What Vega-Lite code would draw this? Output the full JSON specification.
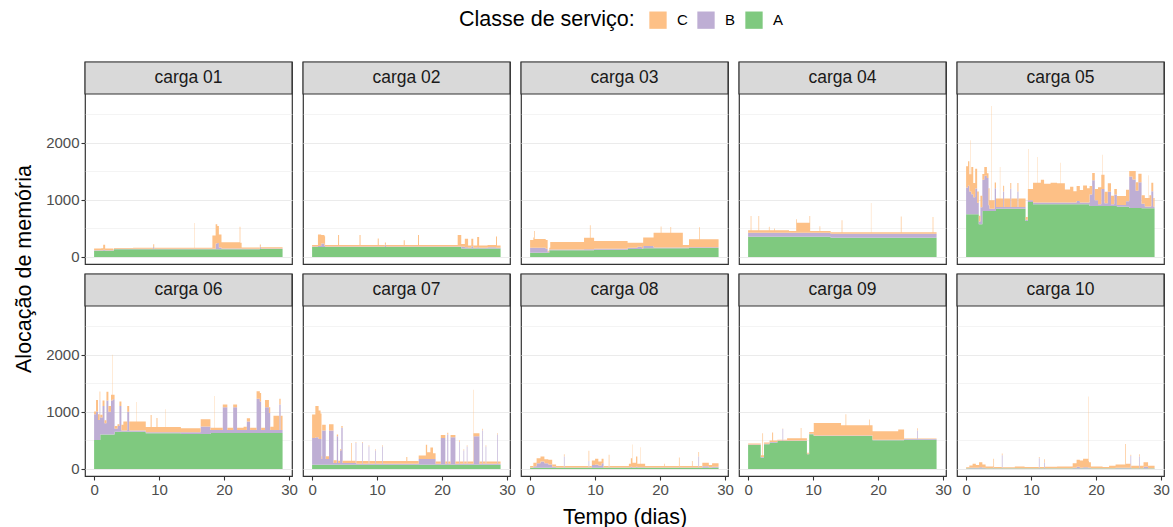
{
"$schema": "https://vega.github.io/schema/vega-lite/v6.json",
"padding": {"left": 13, "top": 11, "right": 5, "bottom": 5},
"bounds": "flush",
"datasets": {"d": [
{"c":"carga 01","t":0,"A":110,"B":8,"C":30},
{"c":"carga 01","t":1.1,"A":110,"B":10,"C":35},
{"c":"carga 01","t":1.4,"A":110,"B":15,"C":90},
{"c":"carga 01","t":1.7,"A":110,"B":10,"C":30},
{"c":"carga 01","t":2.95,"A":110,"B":8,"C":15},
{"c":"carga 01","t":3.05,"A":135,"B":8,"C":15},
{"c":"carga 01","t":6,"A":135,"B":8,"C":20},
{"c":"carga 01","t":9.1,"A":135,"B":40,"C":50},
{"c":"carga 01","t":9.25,"A":135,"B":8,"C":20},
{"c":"carga 01","t":15.4,"A":135,"B":10,"C":450},
{"c":"carga 01","t":15.45,"A":135,"B":8,"C":20},
{"c":"carga 01","t":18,"A":135,"B":8,"C":20},
{"c":"carga 01","t":18.2,"A":135,"B":10,"C":230},
{"c":"carga 01","t":18.7,"A":135,"B":100,"C":340},
{"c":"carga 01","t":18.95,"A":135,"B":110,"C":300},
{"c":"carga 01","t":19.2,"A":135,"B":30,"C":230},
{"c":"carga 01","t":19.6,"A":135,"B":15,"C":110},
{"c":"carga 01","t":22.4,"A":135,"B":15,"C":380},
{"c":"carga 01","t":22.5,"A":135,"B":15,"C":100},
{"c":"carga 01","t":22.7,"A":135,"B":10,"C":20},
{"c":"carga 01","t":25.5,"A":140,"B":40,"C":40},
{"c":"carga 01","t":25.65,"A":140,"B":10,"C":20},
{"c":"carga 01","t":29,"A":145,"B":10,"C":20},
{"c":"carga 02","t":0,"A":175,"B":10,"C":25},
{"c":"carga 02","t":0.9,"A":175,"B":20,"C":200},
{"c":"carga 02","t":1.4,"A":175,"B":60,"C":150},
{"c":"carga 02","t":1.9,"A":175,"B":20,"C":170},
{"c":"carga 02","t":2.0,"A":175,"B":10,"C":25},
{"c":"carga 02","t":4.0,"A":175,"B":10,"C":200},
{"c":"carga 02","t":4.15,"A":175,"B":10,"C":25},
{"c":"carga 02","t":7.3,"A":175,"B":10,"C":200},
{"c":"carga 02","t":7.45,"A":175,"B":10,"C":25},
{"c":"carga 02","t":10.1,"A":175,"B":10,"C":140},
{"c":"carga 02","t":10.25,"A":175,"B":10,"C":25},
{"c":"carga 02","t":11.2,"A":175,"B":40,"C":40},
{"c":"carga 02","t":11.35,"A":175,"B":10,"C":25},
{"c":"carga 02","t":14.1,"A":175,"B":10,"C":110},
{"c":"carga 02","t":14.25,"A":175,"B":10,"C":25},
{"c":"carga 02","t":16.3,"A":175,"B":10,"C":200},
{"c":"carga 02","t":16.45,"A":175,"B":10,"C":25},
{"c":"carga 02","t":22.4,"A":175,"B":10,"C":200},
{"c":"carga 02","t":22.95,"A":150,"B":30,"C":50},
{"c":"carga 02","t":23.5,"A":150,"B":20,"C":150},
{"c":"carga 02","t":24.0,"A":150,"B":10,"C":40},
{"c":"carga 02","t":24.5,"A":150,"B":40,"C":130},
{"c":"carga 02","t":24.8,"A":150,"B":10,"C":40},
{"c":"carga 02","t":25.4,"A":150,"B":20,"C":180},
{"c":"carga 02","t":25.7,"A":150,"B":10,"C":40},
{"c":"carga 02","t":27.0,"A":150,"B":20,"C":40},
{"c":"carga 02","t":28.3,"A":150,"B":10,"C":200},
{"c":"carga 02","t":28.45,"A":150,"B":10,"C":40},
{"c":"carga 02","t":29,"A":150,"B":10,"C":40},
{"c":"carga 03","t":0,"A":76,"B":88,"C":136},
{"c":"carga 03","t":0.5,"A":76,"B":88,"C":180},
{"c":"carga 03","t":0.6,"A":76,"B":88,"C":290},
{"c":"carga 03","t":0.7,"A":76,"B":88,"C":150},
{"c":"carga 03","t":2.4,"A":76,"B":70,"C":150},
{"c":"carga 03","t":2.7,"A":76,"B":15,"C":20},
{"c":"carga 03","t":2.95,"A":117,"B":15,"C":30},
{"c":"carga 03","t":3.1,"A":117,"B":15,"C":130},
{"c":"carga 03","t":8.3,"A":117,"B":20,"C":200},
{"c":"carga 03","t":9.2,"A":117,"B":20,"C":420},
{"c":"carga 03","t":9.3,"A":117,"B":20,"C":200},
{"c":"carga 03","t":9.85,"A":129,"B":15,"C":135},
{"c":"carga 03","t":15.0,"A":140,"B":20,"C":90},
{"c":"carga 03","t":16.5,"A":140,"B":40,"C":70},
{"c":"carga 03","t":17.2,"A":140,"B":15,"C":95},
{"c":"carga 03","t":17.4,"A":152,"B":40,"C":150},
{"c":"carga 03","t":19.0,"A":152,"B":15,"C":260},
{"c":"carga 03","t":20.1,"A":152,"B":15,"C":370},
{"c":"carga 03","t":20.2,"A":152,"B":15,"C":260},
{"c":"carga 03","t":21.6,"A":152,"B":15,"C":360},
{"c":"carga 03","t":21.7,"A":152,"B":15,"C":260},
{"c":"carga 03","t":23.5,"A":152,"B":15,"C":45},
{"c":"carga 03","t":24.45,"A":158,"B":15,"C":140},
{"c":"carga 03","t":26.0,"A":158,"B":15,"C":350},
{"c":"carga 03","t":26.1,"A":158,"B":15,"C":140},
{"c":"carga 03","t":29,"A":158,"B":15,"C":140},
{"c":"carga 04","t":0,"A":357,"B":70,"C":41},
{"c":"carga 04","t":0.4,"A":357,"B":70,"C":293},
{"c":"carga 04","t":0.5,"A":357,"B":70,"C":41},
{"c":"carga 04","t":1.6,"A":357,"B":70,"C":293},
{"c":"carga 04","t":1.7,"A":357,"B":70,"C":41},
{"c":"carga 04","t":3.2,"A":357,"B":70,"C":105},
{"c":"carga 04","t":3.3,"A":357,"B":70,"C":41},
{"c":"carga 04","t":4.0,"A":357,"B":70,"C":75},
{"c":"carga 04","t":4.1,"A":357,"B":70,"C":41},
{"c":"carga 04","t":6.3,"A":357,"B":70,"C":29},
{"c":"carga 04","t":7.4,"A":357,"B":70,"C":234},
{"c":"carga 04","t":7.5,"A":357,"B":70,"C":175},
{"c":"carga 04","t":9.45,"A":357,"B":70,"C":293},
{"c":"carga 04","t":9.55,"A":357,"B":70,"C":29},
{"c":"carga 04","t":11.0,"A":357,"B":70,"C":111},
{"c":"carga 04","t":11.1,"A":357,"B":70,"C":29},
{"c":"carga 04","t":12.7,"A":339,"B":70,"C":24},
{"c":"carga 04","t":14.4,"A":339,"B":70,"C":234},
{"c":"carga 04","t":14.5,"A":339,"B":70,"C":24},
{"c":"carga 04","t":18.9,"A":339,"B":70,"C":540},
{"c":"carga 04","t":18.95,"A":339,"B":70,"C":24},
{"c":"carga 04","t":23.5,"A":339,"B":70,"C":300},
{"c":"carga 04","t":23.6,"A":339,"B":70,"C":24},
{"c":"carga 04","t":28.4,"A":339,"B":70,"C":293},
{"c":"carga 04","t":28.5,"A":339,"B":70,"C":24},
{"c":"carga 04","t":29,"A":339,"B":70,"C":24},
{"c":"carga 05","t":0,"A":750,"B":470,"C":370},
{"c":"carga 05","t":0.3,"A":750,"B":500,"C":430},
{"c":"carga 05","t":0.5,"A":750,"B":400,"C":300},
{"c":"carga 05","t":0.6,"A":750,"B":400,"C":900},
{"c":"carga 05","t":0.65,"A":750,"B":400,"C":300},
{"c":"carga 05","t":0.8,"A":750,"B":350,"C":480},
{"c":"carga 05","t":1.1,"A":750,"B":300,"C":250},
{"c":"carga 05","t":1.4,"A":750,"B":450,"C":350},
{"c":"carga 05","t":1.7,"A":750,"B":200,"C":200},
{"c":"carga 05","t":1.95,"A":573,"B":50,"C":100},
{"c":"carga 05","t":2.2,"A":573,"B":300,"C":200},
{"c":"carga 05","t":2.5,"A":807,"B":550,"C":100},
{"c":"carga 05","t":2.8,"A":807,"B":620,"C":150},
{"c":"carga 05","t":3.2,"A":807,"B":580,"C":80},
{"c":"carga 05","t":3.45,"A":807,"B":100,"C":300},
{"c":"carga 05","t":3.6,"A":807,"B":40,"C":150},
{"c":"carga 05","t":3.9,"A":807,"B":40,"C":1800},
{"c":"carga 05","t":3.95,"A":807,"B":40,"C":150},
{"c":"carga 05","t":4.4,"A":807,"B":400,"C":100},
{"c":"carga 05","t":4.6,"A":848,"B":30,"C":150},
{"c":"carga 05","t":5.2,"A":848,"B":30,"C":700},
{"c":"carga 05","t":5.25,"A":848,"B":30,"C":150},
{"c":"carga 05","t":5.7,"A":848,"B":300,"C":100},
{"c":"carga 05","t":5.85,"A":848,"B":30,"C":150},
{"c":"carga 05","t":6.8,"A":848,"B":350,"C":100},
{"c":"carga 05","t":6.95,"A":848,"B":30,"C":150},
{"c":"carga 05","t":7.9,"A":848,"B":300,"C":150},
{"c":"carga 05","t":8.05,"A":848,"B":30,"C":150},
{"c":"carga 05","t":9.15,"A":632,"B":20,"C":50},
{"c":"carga 05","t":9.5,"A":965,"B":30,"C":200},
{"c":"carga 05","t":9.55,"A":965,"B":30,"C":900},
{"c":"carga 05","t":9.6,"A":965,"B":30,"C":200},
{"c":"carga 05","t":10.3,"A":924,"B":30,"C":350},
{"c":"carga 05","t":11.0,"A":924,"B":30,"C":800},
{"c":"carga 05","t":11.05,"A":924,"B":30,"C":350},
{"c":"carga 05","t":11.5,"A":924,"B":30,"C":400},
{"c":"carga 05","t":12,"A":924,"B":30,"C":330},
{"c":"carga 05","t":13,"A":924,"B":30,"C":350},
{"c":"carga 05","t":14,"A":924,"B":30,"C":340},
{"c":"carga 05","t":14.5,"A":924,"B":30,"C":700},
{"c":"carga 05","t":14.55,"A":924,"B":30,"C":340},
{"c":"carga 05","t":15.2,"A":924,"B":30,"C":230},
{"c":"carga 05","t":16,"A":924,"B":30,"C":280},
{"c":"carga 05","t":16.5,"A":924,"B":30,"C":200},
{"c":"carga 05","t":17,"A":924,"B":60,"C":260},
{"c":"carga 05","t":17.5,"A":924,"B":30,"C":220},
{"c":"carga 05","t":18,"A":924,"B":30,"C":300},
{"c":"carga 05","t":18.6,"A":924,"B":30,"C":250},
{"c":"carga 05","t":19,"A":895,"B":200,"C":150},
{"c":"carga 05","t":19.4,"A":895,"B":450,"C":130},
{"c":"carga 05","t":19.8,"A":895,"B":100,"C":200},
{"c":"carga 05","t":20.3,"A":895,"B":30,"C":300},
{"c":"carga 05","t":20.8,"A":895,"B":300,"C":250},
{"c":"carga 05","t":21.0,"A":895,"B":300,"C":600},
{"c":"carga 05","t":21.05,"A":895,"B":300,"C":250},
{"c":"carga 05","t":21.3,"A":895,"B":50,"C":200},
{"c":"carga 05","t":21.8,"A":895,"B":250,"C":150},
{"c":"carga 05","t":22.3,"A":895,"B":30,"C":150},
{"c":"carga 05","t":22.8,"A":895,"B":200,"C":100},
{"c":"carga 05","t":23.2,"A":880,"B":30,"C":160},
{"c":"carga 05","t":24.6,"A":880,"B":100,"C":200},
{"c":"carga 05","t":25.1,"A":860,"B":550,"C":100},
{"c":"carga 05","t":25.6,"A":860,"B":500,"C":150},
{"c":"carga 05","t":26.1,"A":860,"B":300,"C":150},
{"c":"carga 05","t":26.5,"A":860,"B":450,"C":150},
{"c":"carga 05","t":27,"A":854,"B":80,"C":150},
{"c":"carga 05","t":27.5,"A":854,"B":30,"C":150},
{"c":"carga 05","t":28.0,"A":854,"B":30,"C":550},
{"c":"carga 05","t":28.05,"A":854,"B":30,"C":150},
{"c":"carga 05","t":28.2,"A":854,"B":30,"C":200},
{"c":"carga 05","t":28.5,"A":854,"B":300,"C":150},
{"c":"carga 05","t":28.8,"A":854,"B":30,"C":150},
{"c":"carga 05","t":29,"A":854,"B":30,"C":130},
{"c":"carga 06","t":0,"A":509,"B":450,"C":50},
{"c":"carga 06","t":0.3,"A":509,"B":500,"C":200},
{"c":"carga 06","t":0.6,"A":509,"B":350,"C":100},
{"c":"carga 06","t":0.85,"A":509,"B":700,"C":150},
{"c":"carga 06","t":0.95,"A":603,"B":300,"C":50},
{"c":"carga 06","t":1.3,"A":603,"B":500,"C":100},
{"c":"carga 06","t":1.6,"A":603,"B":200,"C":50},
{"c":"carga 06","t":1.9,"A":603,"B":600,"C":150},
{"c":"carga 06","t":2.2,"A":603,"B":400,"C":100},
{"c":"carga 06","t":2.6,"A":603,"B":600,"C":100},
{"c":"carga 06","t":2.8,"A":603,"B":600,"C":800},
{"c":"carga 06","t":2.85,"A":603,"B":620,"C":80},
{"c":"carga 06","t":3.15,"A":655,"B":50,"C":50},
{"c":"carga 06","t":3.6,"A":655,"B":100,"C":30},
{"c":"carga 06","t":3.9,"A":655,"B":450,"C":80},
{"c":"carga 06","t":4.2,"A":655,"B":20,"C":100},
{"c":"carga 06","t":4.5,"A":655,"B":20,"C":160},
{"c":"carga 06","t":5.1,"A":655,"B":350,"C":100},
{"c":"carga 06","t":5.4,"A":655,"B":20,"C":160},
{"c":"carga 06","t":6.5,"A":655,"B":20,"C":500},
{"c":"carga 06","t":6.55,"A":655,"B":20,"C":160},
{"c":"carga 06","t":7.95,"A":626,"B":20,"C":90},
{"c":"carga 06","t":8.7,"A":626,"B":20,"C":300},
{"c":"carga 06","t":8.85,"A":626,"B":20,"C":90},
{"c":"carga 06","t":9.6,"A":626,"B":20,"C":250},
{"c":"carga 06","t":9.75,"A":626,"B":20,"C":90},
{"c":"carga 06","t":11.0,"A":626,"B":20,"C":400},
{"c":"carga 06","t":11.05,"A":626,"B":20,"C":90},
{"c":"carga 06","t":13.35,"A":614,"B":30,"C":70},
{"c":"carga 06","t":16.4,"A":614,"B":130,"C":130},
{"c":"carga 06","t":17.9,"A":632,"B":50,"C":40},
{"c":"carga 06","t":18.5,"A":632,"B":50,"C":600},
{"c":"carga 06","t":18.55,"A":632,"B":50,"C":40},
{"c":"carga 06","t":19.8,"A":632,"B":450,"C":50},
{"c":"carga 06","t":20.5,"A":632,"B":50,"C":40},
{"c":"carga 06","t":21.4,"A":632,"B":450,"C":50},
{"c":"carga 06","t":22.0,"A":632,"B":50,"C":40},
{"c":"carga 06","t":23.0,"A":632,"B":50,"C":60},
{"c":"carga 06","t":23.5,"A":632,"B":200,"C":60},
{"c":"carga 06","t":24.0,"A":632,"B":50,"C":40},
{"c":"carga 06","t":25.0,"A":632,"B":600,"C":130},
{"c":"carga 06","t":25.5,"A":632,"B":550,"C":150},
{"c":"carga 06","t":25.7,"A":632,"B":50,"C":40},
{"c":"carga 06","t":26.3,"A":632,"B":450,"C":130},
{"c":"carga 06","t":26.9,"A":632,"B":350,"C":100},
{"c":"carga 06","t":27.1,"A":632,"B":50,"C":60},
{"c":"carga 06","t":27.6,"A":632,"B":50,"C":250},
{"c":"carga 06","t":28.5,"A":632,"B":500,"C":100},
{"c":"carga 06","t":28.7,"A":632,"B":50,"C":250},
{"c":"carga 06","t":29,"A":632,"B":50,"C":40},
{"c":"carga 07","t":0,"A":75,"B":470,"C":410},
{"c":"carga 07","t":0.5,"A":75,"B":480,"C":550},
{"c":"carga 07","t":1.0,"A":75,"B":450,"C":500},
{"c":"carga 07","t":1.3,"A":75,"B":450,"C":450},
{"c":"carga 07","t":1.45,"A":75,"B":100,"C":50},
{"c":"carga 07","t":1.55,"A":75,"B":600,"C":100},
{"c":"carga 07","t":2.1,"A":75,"B":100,"C":50},
{"c":"carga 07","t":2.6,"A":75,"B":600,"C":110},
{"c":"carga 07","t":3.3,"A":75,"B":30,"C":50},
{"c":"carga 07","t":3.8,"A":75,"B":500,"C":30},
{"c":"carga 07","t":4.0,"A":75,"B":30,"C":40},
{"c":"carga 07","t":4.3,"A":75,"B":250,"C":20},
{"c":"carga 07","t":4.5,"A":75,"B":650,"C":30},
{"c":"carga 07","t":4.7,"A":75,"B":30,"C":40},
{"c":"carga 07","t":6.0,"A":75,"B":30,"C":350},
{"c":"carga 07","t":6.1,"A":75,"B":30,"C":40},
{"c":"carga 07","t":6.7,"A":75,"B":380,"C":20},
{"c":"carga 07","t":6.8,"A":75,"B":15,"C":50},
{"c":"carga 07","t":7.7,"A":75,"B":380,"C":20},
{"c":"carga 07","t":7.8,"A":75,"B":15,"C":50},
{"c":"carga 07","t":8.7,"A":75,"B":320,"C":20},
{"c":"carga 07","t":8.8,"A":75,"B":15,"C":50},
{"c":"carga 07","t":9.7,"A":75,"B":250,"C":20},
{"c":"carga 07","t":9.8,"A":75,"B":15,"C":50},
{"c":"carga 07","t":10.8,"A":75,"B":320,"C":20},
{"c":"carga 07","t":10.9,"A":75,"B":15,"C":50},
{"c":"carga 07","t":14.5,"A":75,"B":15,"C":120},
{"c":"carga 07","t":14.65,"A":75,"B":15,"C":50},
{"c":"carga 07","t":16.4,"A":75,"B":100,"C":60},
{"c":"carga 07","t":17.5,"A":75,"B":100,"C":250},
{"c":"carga 07","t":17.7,"A":75,"B":100,"C":120},
{"c":"carga 07","t":18.2,"A":75,"B":100,"C":200},
{"c":"carga 07","t":18.6,"A":75,"B":100,"C":100},
{"c":"carga 07","t":19.0,"A":75,"B":15,"C":40},
{"c":"carga 07","t":19.8,"A":75,"B":470,"C":50},
{"c":"carga 07","t":20.5,"A":75,"B":15,"C":40},
{"c":"carga 07","t":20.8,"A":75,"B":530,"C":30},
{"c":"carga 07","t":20.95,"A":75,"B":15,"C":40},
{"c":"carga 07","t":21.3,"A":75,"B":480,"C":40},
{"c":"carga 07","t":22.05,"A":75,"B":15,"C":40},
{"c":"carga 07","t":22.6,"A":75,"B":400,"C":30},
{"c":"carga 07","t":22.7,"A":75,"B":15,"C":40},
{"c":"carga 07","t":23.3,"A":75,"B":250,"C":20},
{"c":"carga 07","t":23.4,"A":75,"B":15,"C":40},
{"c":"carga 07","t":23.8,"A":75,"B":320,"C":20},
{"c":"carga 07","t":23.9,"A":75,"B":15,"C":40},
{"c":"carga 07","t":24.8,"A":75,"B":15,"C":1300},
{"c":"carga 07","t":24.85,"A":75,"B":500,"C":50},
{"c":"carga 07","t":25.75,"A":75,"B":15,"C":40},
{"c":"carga 07","t":26.2,"A":75,"B":600,"C":30},
{"c":"carga 07","t":26.3,"A":75,"B":15,"C":40},
{"c":"carga 07","t":26.7,"A":75,"B":320,"C":20},
{"c":"carga 07","t":26.8,"A":75,"B":15,"C":40},
{"c":"carga 07","t":28.5,"A":75,"B":530,"C":20},
{"c":"carga 07","t":28.6,"A":75,"B":15,"C":40},
{"c":"carga 07","t":29,"A":75,"B":15,"C":40},
{"c":"carga 08","t":0,"A":20,"B":8,"C":25},
{"c":"carga 08","t":0.5,"A":20,"B":30,"C":60},
{"c":"carga 08","t":1.0,"A":20,"B":80,"C":90},
{"c":"carga 08","t":1.6,"A":20,"B":110,"C":90},
{"c":"carga 08","t":2.2,"A":20,"B":80,"C":70},
{"c":"carga 08","t":2.8,"A":20,"B":60,"C":80},
{"c":"carga 08","t":3.4,"A":20,"B":20,"C":40},
{"c":"carga 08","t":4,"A":20,"B":8,"C":25},
{"c":"carga 08","t":5.2,"A":20,"B":200,"C":40},
{"c":"carga 08","t":5.3,"A":20,"B":8,"C":25},
{"c":"carga 08","t":9.0,"A":20,"B":120,"C":180},
{"c":"carga 08","t":9.1,"A":20,"B":8,"C":25},
{"c":"carga 08","t":9.5,"A":20,"B":50,"C":80},
{"c":"carga 08","t":10,"A":20,"B":60,"C":100},
{"c":"carga 08","t":10.5,"A":20,"B":40,"C":70},
{"c":"carga 08","t":11.0,"A":20,"B":80,"C":80},
{"c":"carga 08","t":11.3,"A":20,"B":8,"C":25},
{"c":"carga 08","t":12.1,"A":20,"B":40,"C":190},
{"c":"carga 08","t":12.2,"A":20,"B":8,"C":25},
{"c":"carga 08","t":15.2,"A":20,"B":10,"C":60},
{"c":"carga 08","t":15.5,"A":20,"B":20,"C":150},
{"c":"carga 08","t":15.7,"A":20,"B":10,"C":400},
{"c":"carga 08","t":15.75,"A":20,"B":10,"C":80},
{"c":"carga 08","t":16.3,"A":20,"B":20,"C":180},
{"c":"carga 08","t":16.5,"A":20,"B":10,"C":60},
{"c":"carga 08","t":17,"A":20,"B":10,"C":350},
{"c":"carga 08","t":17.05,"A":20,"B":10,"C":60},
{"c":"carga 08","t":17.7,"A":20,"B":8,"C":25},
{"c":"carga 08","t":20.6,"A":20,"B":10,"C":60},
{"c":"carga 08","t":20.7,"A":20,"B":8,"C":25},
{"c":"carga 08","t":22.9,"A":20,"B":20,"C":160},
{"c":"carga 08","t":23.0,"A":20,"B":8,"C":25},
{"c":"carga 08","t":24.9,"A":20,"B":10,"C":110},
{"c":"carga 08","t":25.0,"A":20,"B":8,"C":25},
{"c":"carga 08","t":25.9,"A":20,"B":200,"C":80},
{"c":"carga 08","t":26.0,"A":20,"B":8,"C":25},
{"c":"carga 08","t":26.5,"A":20,"B":30,"C":60},
{"c":"carga 08","t":27.5,"A":20,"B":10,"C":40},
{"c":"carga 08","t":28,"A":20,"B":20,"C":60},
{"c":"carga 08","t":29,"A":20,"B":8,"C":25},
{"c":"carga 09","t":0,"A":421,"B":10,"C":15},
{"c":"carga 09","t":1.95,"A":199,"B":10,"C":30},
{"c":"carga 09","t":2.2,"A":199,"B":10,"C":420},
{"c":"carga 09","t":2.3,"A":199,"B":10,"C":30},
{"c":"carga 09","t":2.45,"A":433,"B":10,"C":20},
{"c":"carga 09","t":3.3,"A":462,"B":10,"C":30},
{"c":"carga 09","t":3.7,"A":462,"B":10,"C":170},
{"c":"carga 09","t":3.85,"A":462,"B":10,"C":30},
{"c":"carga 09","t":4.5,"A":491,"B":10,"C":10},
{"c":"carga 09","t":5.3,"A":491,"B":210,"C":10},
{"c":"carga 09","t":5.4,"A":491,"B":10,"C":10},
{"c":"carga 09","t":6,"A":491,"B":10,"C":37},
{"c":"carga 09","t":8.1,"A":491,"B":10,"C":220},
{"c":"carga 09","t":8.2,"A":491,"B":10,"C":37},
{"c":"carga 09","t":9.05,"A":257,"B":10,"C":20},
{"c":"carga 09","t":9.4,"A":608,"B":10,"C":30},
{"c":"carga 09","t":10.1,"A":579,"B":10,"C":220},
{"c":"carga 09","t":14.3,"A":579,"B":10,"C":180},
{"c":"carga 09","t":15.0,"A":579,"B":10,"C":370},
{"c":"carga 09","t":15.1,"A":579,"B":10,"C":180},
{"c":"carga 09","t":18.6,"A":579,"B":10,"C":280},
{"c":"carga 09","t":18.7,"A":579,"B":10,"C":180},
{"c":"carga 09","t":19.15,"A":503,"B":10,"C":150},
{"c":"carga 09","t":23.1,"A":503,"B":10,"C":180},
{"c":"carga 09","t":24.0,"A":515,"B":10,"C":10},
{"c":"carga 09","t":26.0,"A":515,"B":160,"C":40},
{"c":"carga 09","t":26.1,"A":515,"B":10,"C":10},
{"c":"carga 09","t":29,"A":515,"B":10,"C":10},
{"c":"carga 10","t":0,"A":10,"B":5,"C":15},
{"c":"carga 10","t":0.5,"A":10,"B":10,"C":40},
{"c":"carga 10","t":1,"A":10,"B":10,"C":70},
{"c":"carga 10","t":1.5,"A":10,"B":10,"C":50},
{"c":"carga 10","t":2,"A":10,"B":20,"C":90},
{"c":"carga 10","t":2.5,"A":10,"B":10,"C":60},
{"c":"carga 10","t":3,"A":10,"B":5,"C":30},
{"c":"carga 10","t":4.2,"A":10,"B":20,"C":150},
{"c":"carga 10","t":4.3,"A":10,"B":5,"C":20},
{"c":"carga 10","t":5.5,"A":10,"B":230,"C":30},
{"c":"carga 10","t":5.6,"A":10,"B":5,"C":15},
{"c":"carga 10","t":7.5,"A":10,"B":5,"C":30},
{"c":"carga 10","t":9,"A":10,"B":5,"C":20},
{"c":"carga 10","t":11.2,"A":10,"B":180,"C":20},
{"c":"carga 10","t":11.3,"A":10,"B":5,"C":20},
{"c":"carga 10","t":12.0,"A":10,"B":100,"C":60},
{"c":"carga 10","t":12.1,"A":10,"B":5,"C":25},
{"c":"carga 10","t":14,"A":10,"B":5,"C":30},
{"c":"carga 10","t":16.4,"A":10,"B":10,"C":80},
{"c":"carga 10","t":17,"A":10,"B":30,"C":120},
{"c":"carga 10","t":17.5,"A":10,"B":10,"C":130},
{"c":"carga 10","t":18,"A":10,"B":20,"C":150},
{"c":"carga 10","t":18.8,"A":10,"B":10,"C":120},
{"c":"carga 10","t":18.85,"A":10,"B":10,"C":1250},
{"c":"carga 10","t":18.9,"A":10,"B":10,"C":100},
{"c":"carga 10","t":19.2,"A":10,"B":5,"C":30},
{"c":"carga 10","t":21,"A":10,"B":5,"C":20},
{"c":"carga 10","t":22,"A":10,"B":5,"C":40},
{"c":"carga 10","t":23,"A":10,"B":10,"C":60},
{"c":"carga 10","t":24.5,"A":10,"B":10,"C":420},
{"c":"carga 10","t":24.6,"A":10,"B":10,"C":70},
{"c":"carga 10","t":25.3,"A":10,"B":220,"C":20},
{"c":"carga 10","t":25.4,"A":10,"B":5,"C":40},
{"c":"carga 10","t":26.6,"A":10,"B":210,"C":40},
{"c":"carga 10","t":26.7,"A":10,"B":5,"C":40},
{"c":"carga 10","t":27.3,"A":10,"B":30,"C":80},
{"c":"carga 10","t":28,"A":10,"B":5,"C":40},
{"c":"carga 10","t":29,"A":10,"B":5,"C":30}
]},
"data": {"name": "d"},
"transform": [
  {"fold": ["A", "B", "C"], "as": ["classe", "valor"]},
  {"calculate": "toNumber(substring(datum.c, 6)) <= 5 ? 1 : 2", "as": "linha"},
  {"calculate": "(toNumber(substring(datum.c, 6)) - 1) % 5", "as": "coluna"}
],
"facet": {
  "row": {"field": "linha", "type": "ordinal", "header": {"title": "Alocação de memória", "titleOrient": "left", "labels": false, "titlePadding": 0}},
  "column": {"field": "coluna", "type": "ordinal", "header": {"title": "Tempo (dias)", "titleOrient": "bottom", "labels": false, "titlePadding": 0}}
},
"spacing": {"row": 10, "column": 11},
"spec": {
  "width": 207,
  "height": 202,
  "layer": [
    {
      "mark": {"type": "area", "interpolate": "step-after", "opacity": 1},
      "encoding": {
        "x": {"field": "t", "type": "quantitative", "scale": {"domain": [-1.4, 30.45], "nice": false, "zero": false},
              "axis": {"title": null, "values": [0, 10, 20, 30], "format": "d", "grid": false}},
        "y": {"field": "valor", "type": "quantitative", "stack": "zero", "scale": {"domain": [-123, 3421], "nice": false, "zero": false},
              "axis": {"title": null, "values": [0, 500, 1000, 1500, 2000, 2500], "format": "d",
                       "labelExpr": "datum.value % 1000 === 0 ? datum.label : ''",
                       "tickOpacity": {"condition": {"test": "datum.value % 1000 !== 0", "value": 0}, "value": 1},
                       "gridWidth": {"condition": {"test": "datum.value % 1000 === 0", "value": 1.1}, "value": 0.55}}},
        "color": {"field": "classe", "type": "nominal", "scale": {"domain": ["C", "B", "A"], "range": ["#fdc086", "#beaed4", "#7fc97f"]},
                  "legend": {"title": "Classe de serviço:", "orient": "none", "legendX": 374, "legendY": -51}},
        "order": {"field": "classe", "sort": "ascending"}
      }
    },
    {
      "transform": [{"aggregate": [{"op": "count", "as": "n"}], "groupby": ["c", "linha", "coluna"]}],
      "mark": {"type": "rect", "fill": "#d9d9d9", "stroke": "#333333", "strokeWidth": 1.2},
      "encoding": {"x": {"datum": -1.4}, "x2": {"datum": 30.45}, "y": {"datum": 2860}, "y2": {"datum": 3421}}
    },
    {
      "transform": [{"aggregate": [{"op": "count", "as": "n"}], "groupby": ["c", "linha", "coluna"]}],
      "mark": {"type": "text", "fontSize": 17.5, "color": "#1a1a1a", "baseline": "middle", "align": "center"},
      "encoding": {"x": {"datum": 14.525}, "y": {"datum": 3140}, "text": {"field": "c"}}
    }
  ]
},
"config": {
  "font": "Liberation Sans",
  "view": {"stroke": "#333333", "strokeWidth": 1.2},
  "axis": {"domain": false, "tickColor": "#333333", "tickWidth": 1.1, "tickSize": 4, "labelColor": "#4d4d4d", "labelFontSize": 15, "labelPadding": 2, "gridColor": "#ebebeb"},
  "header": {"titleFontSize": 21.5, "titleFontWeight": "normal", "titleColor": "#000000", "titleFont": "Liberation Sans"},
  "legend": {"direction": "horizontal", "titleOrient": "left", "titleFontSize": 21.5, "titleFontWeight": "normal", "titleColor": "#000000", "titlePadding": 14,
             "labelFontSize": 15, "labelColor": "#000000", "symbolType": "square", "symbolSize": 300, "symbolStrokeWidth": 0, "symbolOpacity": 1,
             "columnPadding": 9, "labelOffset": 10}
}
}
